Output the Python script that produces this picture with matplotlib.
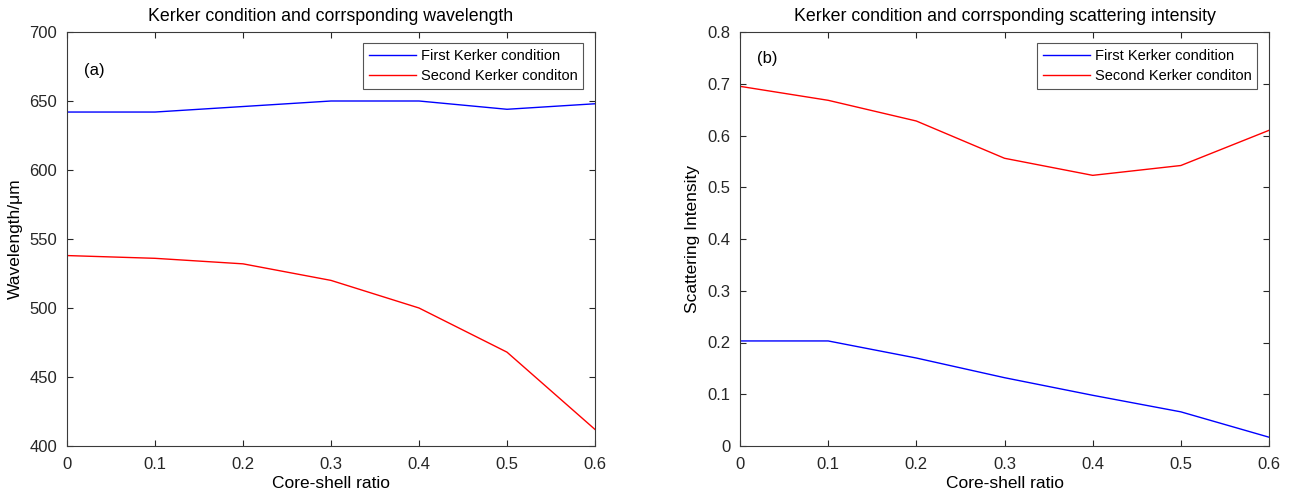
import matplotlib.pyplot as plt

plt.rcParams['font.family'] = ['Liberation Sans', 'DejaVu Sans']

ratio = [0, 0.1, 0.2, 0.3, 0.4, 0.5, 0.6]
ratio_labels = ['0', '0.1', '0.2', '0.3', '0.4', '0.5', '0.6']

# panel (a): wavelength
wl_first = [642, 642, 646, 650, 650, 644, 648]
wl_second = [538, 536, 532, 520, 500, 468, 412]

# panel (b): scattering intensity
si_first = [0.203, 0.203, 0.170, 0.132, 0.098, 0.066, 0.017]
si_second = [0.695, 0.668, 0.628, 0.556, 0.523, 0.542, 0.610]
si_ticks = [0, 0.1, 0.2, 0.3, 0.4, 0.5, 0.6, 0.7, 0.8]
si_tick_labels = ['0', '0.1', '0.2', '0.3', '0.4', '0.5', '0.6', '0.7', '0.8']

labels = ["First Kerker condition", "Second Kerker conditon"]

W, H = 1290, 497
fig = plt.figure(figsize=(W / 100, H / 100), dpi=100)
ax1 = fig.add_axes([67 / W, 1 - 446 / H, 528 / W, 414 / H])
ax2 = fig.add_axes([740 / W, 1 - 446 / H, 529 / W, 414 / H])


def style(ax):
    ax.tick_params(direction='in', top=True, right=True, labelsize=12,
                   length=4.5, width=0.8, colors='#262626')
    ax.tick_params(axis='x', pad=8)
    ax.tick_params(axis='y', pad=7)
    for s in ax.spines.values():
        s.set_color('#3a3a3a')
        s.set_linewidth(0.8)


ax1.plot(ratio, wl_first, color='blue', linewidth=1, label=labels[0])
ax1.plot(ratio, wl_second, color='red', linewidth=1, label=labels[1])
ax1.set_xlim(0, 0.6)
ax1.set_ylim(400, 700)
ax1.set_xticks(ratio)
ax1.set_xticklabels(ratio_labels)
ax1.set_yticks(range(400, 701, 50))
ax1.set_title("Kerker condition and corrsponding wavelength", fontsize=12.8, pad=8)
ax1.set_xlabel("Core-shell ratio", fontsize=12.5, labelpad=3)
ax1.set_ylabel("Wavelength/μm", fontsize=12.5, labelpad=5)
ax1.text(0.032, 0.906, "(a)", transform=ax1.transAxes, fontsize=12, va='center')
style(ax1)

ax2.plot(ratio, si_first, color='blue', linewidth=1, label=labels[0])
ax2.plot(ratio, si_second, color='red', linewidth=1, label=labels[1])
ax2.set_xlim(0, 0.6)
ax2.set_ylim(0, 0.8)
ax2.set_xticks(ratio)
ax2.set_xticklabels(ratio_labels)
ax2.set_yticks(si_ticks)
ax2.set_yticklabels(si_tick_labels)
ax2.set_title("Kerker condition and corrsponding scattering intensity", fontsize=12.8, pad=8)
ax2.set_xlabel("Core-shell ratio", fontsize=12.5, labelpad=3)
ax2.set_ylabel("Scattering Intensity", fontsize=12.5, labelpad=5)
ax2.text(0.032, 0.937, "(b)", transform=ax2.transAxes, fontsize=12, va='center')
style(ax2)

for ax in (ax1, ax2):
    leg = ax.legend(loc='upper right', fontsize=10.5, fancybox=False,
                    edgecolor='#555555', framealpha=1, handlelength=3.2,
                    handletextpad=0.35, borderpad=0.4, labelspacing=0.4,
                    borderaxespad=0, bbox_to_anchor=(0.978, 0.973))
    leg.get_frame().set_linewidth(0.8)

fig.savefig("out.png", dpi=100)
